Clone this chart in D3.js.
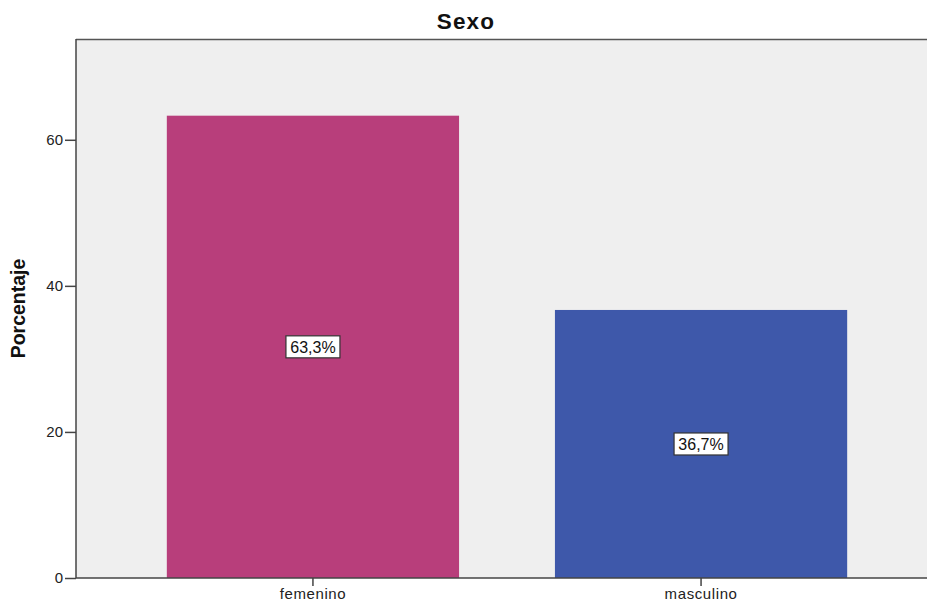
<!DOCTYPE html>
<html>
<head>
<meta charset="utf-8">
<script src="https://cdn.jsdelivr.net/npm/d3@7"></script>
<style>
  html, body { margin: 0; padding: 0; background: #ffffff; }
  svg { display: block; font-family: "Liberation Sans", Arial, sans-serif; }
</style>
</head>
<body>
<svg id="chart" width="927" height="604"></svg>
<script>
// Distribution by sex (percent of respondents)
const categories = ["femenino", "masculino"];
const percentages = [63.3, 36.7];
const valueLabels = ["63,3%", "36,7%"];
const barColors = ["#b83e7b", "#3e58aa"];
const yTicks = [0, 20, 40, 60];
const chartTitle = "Sexo";
const yTitle = "Porcentaje";

const svg = d3.select("#chart");
const plotLeft = 76, plotTop = 39, plotBottom = 578, plotRight = 938;

const x = d3.scaleBand()
  .domain(categories)
  .range([plotLeft, plotRight])
  .paddingInner(0.247)
  .paddingOuter(0.234);

const y = d3.scaleLinear()
  .domain([0, 73.8])
  .range([plotBottom, plotTop]);

// plot background
svg.append("rect")
  .attr("x", plotLeft).attr("y", plotTop)
  .attr("width", plotRight - plotLeft).attr("height", plotBottom - plotTop)
  .attr("fill", "#efefef");

// bars
svg.selectAll("rect.bar")
  .data(categories)
  .enter().append("rect")
  .attr("class", "bar")
  .attr("x", d => x(d))
  .attr("y", (d, i) => y(percentages[i]))
  .attr("width", x.bandwidth())
  .attr("height", (d, i) => y(0) - y(percentages[i]))
  .attr("fill", (d, i) => barColors[i]);

// top frame line
svg.append("line")
  .attr("x1", plotLeft).attr("x2", plotRight)
  .attr("y1", plotTop + 0.5).attr("y2", plotTop + 0.5)
  .attr("stroke", "#555").attr("stroke-width", 1.5);

// y axis
const yAxis = svg.append("g")
  .attr("transform", `translate(${plotLeft},0)`)
  .call(d3.axisLeft(y).tickValues(yTicks).tickSize(11).tickSizeOuter(0).tickPadding(2));
yAxis.select(".domain").attr("stroke", "#444").attr("stroke-width", 1.5)
  .attr("d", `M0,${plotTop}V${plotBottom}`);
yAxis.selectAll(".tick line").attr("stroke", "#444").attr("stroke-width", 1.5);
yAxis.selectAll(".tick text")
  .attr("font-size", 15).attr("fill", "#222")
  .attr("font-family", "'Liberation Sans', Arial, sans-serif");

// x axis
const xAxis = svg.append("g")
  .attr("transform", `translate(0,${plotBottom})`)
  .call(d3.axisBottom(x).tickSize(8).tickSizeOuter(0).tickPadding(2));
xAxis.select(".domain").attr("stroke", "#444").attr("stroke-width", 1.5)
  .attr("d", `M${plotLeft},0H${plotRight}`);
xAxis.selectAll(".tick line").attr("stroke", "#444").attr("stroke-width", 1.5);
xAxis.selectAll(".tick text")
  .attr("font-size", 15).attr("fill", "#222")
  .attr("letter-spacing", 0.6)
  .attr("font-family", "'Liberation Sans', Arial, sans-serif");

// value labels in boxes at mid-bar
const lab = svg.selectAll("g.vlabel")
  .data(categories)
  .enter().append("g")
  .attr("class", "vlabel")
  .attr("transform", (d, i) => `translate(${x(d) + x.bandwidth() / 2},${y(percentages[i] / 2)})`);
lab.append("rect")
  .attr("x", -27).attr("y", -11)
  .attr("width", 54).attr("height", 22)
  .attr("fill", "#ffffff")
  .attr("stroke", "#333").attr("stroke-width", 1.2);
lab.append("text")
  .attr("text-anchor", "middle")
  .attr("dy", "0.36em")
  .attr("font-size", 16)
  .attr("fill", "#111")
  .text((d, i) => valueLabels[i]);

// title
svg.append("text")
  .attr("x", 466).attr("y", 29)
  .attr("text-anchor", "middle")
  .attr("font-size", 22.5).attr("font-weight", "bold")
  .attr("letter-spacing", 1.2)
  .attr("fill", "#111")
  .text(chartTitle);

// y axis title
svg.append("text")
  .attr("transform", `translate(25,${(plotTop + plotBottom) / 2}) rotate(-90)`)
  .attr("text-anchor", "middle")
  .attr("font-size", 19.5).attr("font-weight", "bold")
  .attr("fill", "#111")
  .text(yTitle);
</script>
</body>
</html>
